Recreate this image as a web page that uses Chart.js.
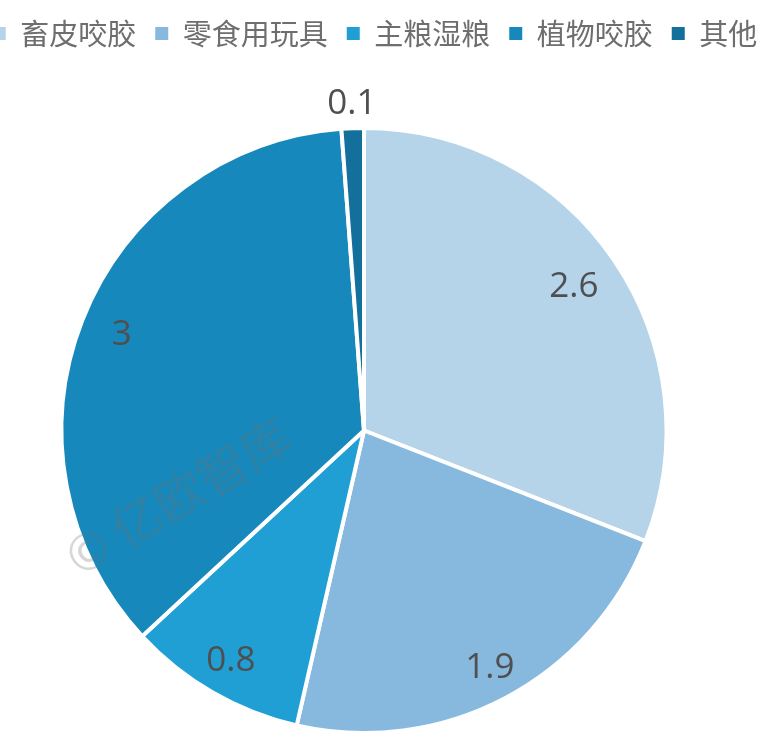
<!DOCTYPE html>
<html>
<head>
<meta charset="utf-8">
<script src="https://cdn.jsdelivr.net/npm/chart.js@4.4.1/dist/chart.umd.min.js"></script>
<style>
html,body{margin:0;padding:0;background:#fff;overflow:hidden;width:768px;height:741px;}
#wrap{position:absolute;left:-54px;top:0;width:860px;height:741px;}
</style>
</head>
<body>
<div id="wrap"><canvas id="c"></canvas></div>
<script>
const categories = ['畜皮咬胶', '零食用玩具', '主粮湿粮', '植物咬胶', '其他'];
const values = [2.6, 1.9, 0.8, 3, 0.1];
const colors = ['#B5D3E9', '#87B9DF', '#1F9FD4', '#1788BB', '#136F9B'];
const watermarkText = '© 亿欧智库';

const legendShift = {
  id: 'legendShift',
  beforeInit(chart) {
    const lg = chart.legend;
    const fit = lg.fit;
    lg.fit = function () { fit.call(this); this.height = 126; };
  },
  afterLayout(chart, args, opts) {
    chart.legend.left += opts.dx;
    chart.legend.right += opts.dx;
  }
};

const valueLabels = {
  id: 'valueLabels',
  afterDatasetsDraw(chart, args, opts) {
    const ctx = chart.ctx;
    const meta = chart.getDatasetMeta(0);
    ctx.save();
    ctx.translate(opts.wmX, opts.wmY);
    ctx.rotate(opts.wmAngle * Math.PI / 180);
    ctx.font = '50px "Noto Sans CJK SC"';
    ctx.fillStyle = 'rgba(110,110,110,0.28)';
    ctx.textAlign = 'center';
    ctx.textBaseline = 'middle';
    ctx.fillText(watermarkText, 0, 0);
    ctx.restore();
    ctx.save();
    ctx.font = '35px "Open Sans"';
    ctx.fillStyle = '#4f4f4f';
    ctx.textAlign = 'center';
    ctx.textBaseline = 'middle';
    meta.data.forEach((arc, i) => {
      const p = arc.getProps(['x', 'y', 'startAngle', 'endAngle', 'outerRadius'], true);
      const mid = (p.startAngle + p.endAngle) / 2;
      const r = p.outerRadius * opts.factors[i];
      ctx.fillText(String(chart.data.datasets[0].data[i]), p.x + Math.cos(mid) * r, p.y + Math.sin(mid) * r);
    });
    ctx.restore();
  }
};

new Chart(document.getElementById('c'), {
  type: 'pie',
  data: {
    labels: categories,
    datasets: [{
      data: values,
      backgroundColor: colors,
      borderColor: '#ffffff',
      borderWidth: 4
    }]
  },
  options: {
    responsive: true,
    maintainAspectRatio: false,
    animation: false,
    layout: { padding: { left: 0, right: 24, top: 0, bottom: 6 } },
    plugins: {
      legend: {
        position: 'top',
        labels: {
          boxWidth: 13,
          boxHeight: 13,
          padding: 19,
          color: '#6e6e6e',
          font: { size: 29, family: '"Noto Sans CJK SC"' },
          generateLabels(chart) {
            const items = Chart.overrides.pie.plugins.legend.labels.generateLabels(chart);
            return items.map(it => Object.assign(it, { lineWidth: 0, strokeStyle: 'rgba(0,0,0,0)' }));
          }
        }
      },
      tooltip: { enabled: false },
      legendShift: { dx: 11 },
      valueLabels: { factors: [0.84, 0.89, 0.88, 0.86, 1.08], wmX: 232, wmY: 496, wmAngle: -31 }
    }
  },
  plugins: [legendShift, valueLabels]
});
</script>
</body>
</html>
